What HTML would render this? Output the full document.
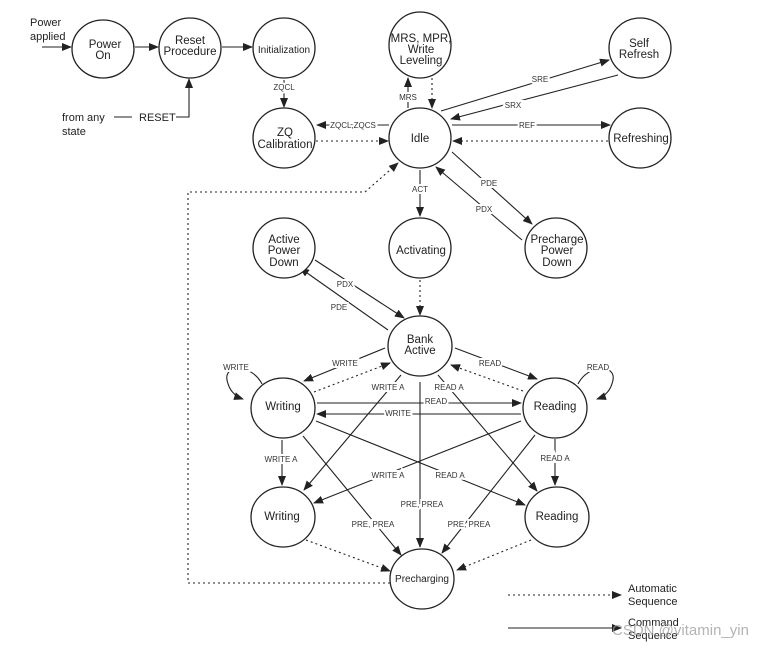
<!DOCTYPE html>
<html><head><meta charset="utf-8"><style>
html,body{margin:0;padding:0;background:#fff;}
svg{display:block;font-family:"Liberation Sans",sans-serif;}
.n{fill:#fff;stroke:#222;stroke-width:1.3}
.s{stroke:#222;stroke-width:1.1;fill:none;marker-end:url(#a)}
.d{stroke:#222;stroke-width:1.1;fill:none;stroke-dasharray:2,3;marker-end:url(#a)}
.t{font-size:11.5px;fill:#222;text-anchor:middle}
.l{font-size:8px;fill:#333;text-anchor:middle;paint-order:stroke;stroke:#fff;stroke-width:4px}
</style></head><body>
<svg width="766" height="648" viewBox="0 0 766 648">
<defs><marker id="a" markerWidth="10" markerHeight="8" refX="9" refY="4" orient="auto" markerUnits="userSpaceOnUse"><path d="M0,0 L10,4 L0,8 z" fill="#222"/></marker></defs>

<line class="s" x1="42" y1="47" x2="71" y2="47"/>
<line class="s" x1="135" y1="47" x2="158" y2="47"/>
<line class="s" x1="222" y1="47" x2="252" y2="47"/>
<path class="s" d="M176 117 H189 V79"/>
<line x1="114" y1="117" x2="132" y2="117" stroke="#222" stroke-width="1.1"/>
<line class="s" x1="284" y1="80" x2="284" y2="107"/>
<line class="s" x1="389" y1="125" x2="317" y2="125"/>
<line class="d" x1="316" y1="141" x2="388" y2="141"/>
<line class="s" x1="408" y1="108" x2="408" y2="78"/>
<line class="d" x1="432" y1="78" x2="432" y2="108"/>
<line class="s" x1="441" y1="111" x2="609" y2="60"/>
<line class="s" x1="618" y1="75" x2="451" y2="119"/>
<line class="s" x1="452" y1="125" x2="610" y2="125"/>
<line class="d" x1="608" y1="141" x2="453" y2="141"/>
<line class="s" x1="420" y1="170" x2="420" y2="216"/>
<line class="s" x1="452" y1="152" x2="532" y2="224"/>
<line class="s" x1="522" y1="240" x2="436" y2="167"/>
<line class="d" x1="420" y1="280" x2="420" y2="315"/>
<line class="s" x1="315" y1="260" x2="404" y2="318"/>
<line class="s" x1="388" y1="330" x2="300" y2="268"/>
<path class="d" d="M390 583 H188 V192 H365 L398 163"/>

<line class="s" x1="385" y1="348" x2="304" y2="381"/>
<line class="d" x1="314" y1="392" x2="390" y2="363"/>
<line class="s" x1="455" y1="348" x2="537" y2="379"/>
<line class="d" x1="523" y1="391" x2="451" y2="365"/>
<path class="s" d="M262 384 C252 364 224 364 227 380 C229 390 234 396 243 399"/>
<path class="s" d="M578 384 C588 364 616 364 613 380 C611 390 606 396 597 399"/>
<line class="s" x1="317" y1="403" x2="521" y2="403"/>
<line class="s" x1="521" y1="414" x2="317" y2="414"/>
<line class="s" x1="401" y1="375" x2="304" y2="490"/>
<line class="s" x1="438" y1="375" x2="537" y2="491"/>
<line class="s" x1="420" y1="382" x2="420" y2="547"/>
<line class="s" x1="282" y1="440" x2="282" y2="485"/>
<line class="s" x1="555" y1="439" x2="555" y2="485"/>
<line class="s" x1="316" y1="421" x2="525" y2="505"/>
<line class="s" x1="521" y1="421" x2="314" y2="503"/>
<line class="s" x1="303" y1="436" x2="401" y2="555"/>
<line class="s" x1="535" y1="435" x2="442" y2="553"/>
<line class="d" x1="306" y1="540" x2="390" y2="571"/>
<line class="d" x1="531" y1="540" x2="457" y2="570"/>

<line class="d" x1="508" y1="595" x2="621" y2="595"/>
<line class="s" x1="508" y1="628" x2="621" y2="628"/>

<g>
<ellipse class="n" cx="103" cy="49" rx="31" ry="29"/>
<ellipse class="n" cx="190" cy="48" rx="31" ry="30"/>
<ellipse class="n" cx="284" cy="48" rx="31" ry="30"/>
<ellipse class="n" cx="420" cy="45" rx="31" ry="33"/>
<ellipse class="n" cx="640" cy="48" rx="31" ry="30"/>
<ellipse class="n" cx="284" cy="138" rx="31" ry="30"/>
<ellipse class="n" cx="420" cy="138" rx="31" ry="30"/>
<ellipse class="n" cx="640" cy="138" rx="31" ry="30"/>
<ellipse class="n" cx="284" cy="248" rx="31" ry="30"/>
<ellipse class="n" cx="420" cy="248" rx="31" ry="30"/>
<ellipse class="n" cx="556" cy="248" rx="31" ry="30"/>
<ellipse class="n" cx="420" cy="346" rx="32" ry="30"/>
<ellipse class="n" cx="283" cy="408" rx="32" ry="30"/>
<ellipse class="n" cx="555" cy="408" rx="32" ry="30"/>
<ellipse class="n" cx="283" cy="517" rx="32" ry="30"/>
<ellipse class="n" cx="557" cy="517" rx="32" ry="30"/>
<ellipse class="n" cx="422" cy="579" rx="32" ry="30"/>
</g>

<text class="t" x="105" y="48">Power</text><text class="t" x="103" y="59">On</text>
<text class="t" x="190" y="44">Reset</text><text class="t" x="190" y="55">Procedure</text>
<text class="t" x="284" y="53" style="font-size:10px">Initialization</text>
<text class="t" x="421" y="42">MRS, MPR,</text><text class="t" x="421" y="53">Write</text><text class="t" x="421" y="64">Leveling</text>
<text class="t" x="639" y="47">Self</text><text class="t" x="639" y="58">Refresh</text>
<text class="t" x="285" y="136">ZQ</text><text class="t" x="285" y="148">Calibration</text>
<text class="t" x="420" y="142">Idle</text>
<text class="t" x="641" y="142">Refreshing</text>
<text class="t" x="284" y="243">Active</text><text class="t" x="284" y="254">Power</text><text class="t" x="284" y="266">Down</text>
<text class="t" x="421" y="254">Activating</text>
<text class="t" x="557" y="243">Precharge</text><text class="t" x="557" y="254">Power</text><text class="t" x="557" y="266">Down</text>
<text class="t" x="420" y="343">Bank</text><text class="t" x="420" y="354">Active</text>
<text class="t" x="283" y="410">Writing</text>
<text class="t" x="555" y="410">Reading</text>
<text class="t" x="282" y="520">Writing</text>
<text class="t" x="557" y="520">Reading</text>
<text class="t" x="422" y="582" style="font-size:10px">Precharging</text>

<text x="30" y="26" style="font-size:11px" fill="#222">Power</text>
<text x="30" y="40" style="font-size:11px" fill="#222">applied</text>
<text x="62" y="121" style="font-size:11px" fill="#222">from any</text>
<text x="62" y="135" style="font-size:11px" fill="#222">state</text>
<text x="139" y="121" style="font-size:11px" fill="#222">RESET</text>
<text x="628" y="592" style="font-size:11px" fill="#222">Automatic</text>
<text x="628" y="605" style="font-size:11px" fill="#222">Sequence</text>
<text x="628" y="626" style="font-size:11px" fill="#222">Command</text>
<text x="628" y="639" style="font-size:11px" fill="#222">Sequence</text>
<text x="612" y="635" style="font-size:15px" fill="#999" fill-opacity="0.75">CSDN @vitamin_yin</text>

<text class="l" x="284" y="90">ZQCL</text>
<text class="l" x="353" y="128">ZQCL,ZQCS</text>
<text class="l" x="408" y="100">MRS</text>
<text class="l" x="540" y="82">SRE</text>
<text class="l" x="513" y="108">SRX</text>
<text class="l" x="527" y="128">REF</text>
<text class="l" x="420" y="192">ACT</text>
<text class="l" x="489" y="186">PDE</text>
<text class="l" x="484" y="212">PDX</text>
<text class="l" x="345" y="287">PDX</text>
<text class="l" x="339" y="310">PDE</text>
<text class="l" x="345" y="366">WRITE</text>
<text class="l" x="490" y="366">READ</text>
<text class="l" x="236" y="370">WRITE</text>
<text class="l" x="598" y="370">READ</text>
<text class="l" x="436" y="404">READ</text>
<text class="l" x="398" y="416">WRITE</text>
<text class="l" x="388" y="390">WRITE A</text>
<text class="l" x="449" y="390">READ A</text>
<text class="l" x="281" y="462">WRITE A</text>
<text class="l" x="555" y="461">READ A</text>
<text class="l" x="388" y="478">WRITE A</text>
<text class="l" x="450" y="478">READ A</text>
<text class="l" x="422" y="507">PRE, PREA</text>
<text class="l" x="373" y="527">PRE,  PREA</text>
<text class="l" x="469" y="527">PRE,  PREA</text>
</svg>
</body></html>
